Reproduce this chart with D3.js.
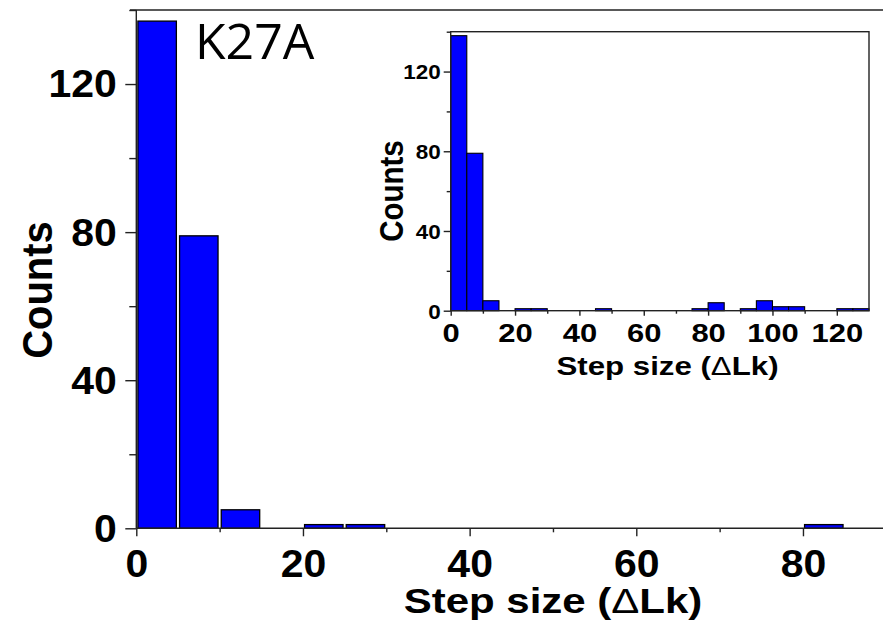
<!DOCTYPE html>
<html>
<head>
<meta charset="utf-8">
<script src="https://cdn.jsdelivr.net/npm/d3@7/dist/d3.min.js"></script>
<style>
  html, body { margin: 0; padding: 0; background: #fff; }
  svg { display: block; }
</style>
</head>
<body>
<svg id="chart" width="883" height="643"></svg>
<script>
// ---------- data ----------
const binWidth = 5;
// main histogram: bin start (ΔLk) and counts
const mainBinStarts = [0, 5, 10, 15, 20, 25, 30, 35, 40, 45, 50, 55, 60, 65, 70, 75, 80, 85];
const mainCounts    = [137, 79, 5, 0, 1, 1, 0, 0, 0, 0, 0, 0, 0, 0, 0, 0, 1, 0];
const mainXTicks = [0, 20, 40, 60, 80];
const mainYTicks = [0, 40, 80, 120];

// inset histogram
const insetBinStarts = [0, 5, 10, 15, 20, 25, 30, 35, 40, 45, 50, 55, 60, 65, 70, 75, 80, 85, 90, 95, 100, 105, 110, 115, 120, 125];
const insetCounts    = [138, 79, 5, 0, 1, 1, 0, 0, 0, 1, 0, 0, 0, 0, 0, 1, 4, 0, 1, 5, 2, 2, 0, 0, 1, 1];
const insetXTicks = [0, 20, 40, 60, 80, 100, 120];
const insetYTicks = [0, 40, 80, 120];

const labelText = "K27A";
const xTitleParts = ["Step size (", "\u0394", "Lk)"];
const yTitle = "Counts";

// ---------- setup ----------
const svg = d3.select("#chart");
const boldFont = "'Liberation Sans', Arial, sans-serif";
const axisColor = "#222";
const barFill = "#0000ff";

function styleAxis(g) {
  g.selectAll(".domain").remove();
  g.selectAll("line").attr("stroke", axisColor).attr("stroke-width", 1.4);
}
function addXTitle(sel) {
  sel.append("tspan").text(xTitleParts[0]);
  sel.append("tspan").attr("font-weight", "normal").text(xTitleParts[1]);
  sel.append("tspan").text(xTitleParts[2]);
}

// ================= MAIN CHART =================
const mx = d3.scaleLinear().domain([0, 90]).range([136.3, 886.3]);
const my = d3.scaleLinear().domain([0, 140]).range([528.3, 10]);

const main = svg.append("g");

// bars
const mainData = mainBinStarts.map((s, i) => ({ s, c: mainCounts[i] })).filter(d => d.c > 0);
main.selectAll("rect.bar").data(mainData).enter().append("rect")
  .attr("class", "bar")
  .attr("x", d => mx(d.s) + 1.6)
  .attr("width", d => mx(d.s + binWidth) - mx(d.s) - 3.2)
  .attr("y", d => my(d.c))
  .attr("height", d => my(0) - my(d.c))
  .attr("fill", barFill)
  .attr("stroke", "#000")
  .attr("stroke-width", 1.3);

// axes lines
main.append("line").attr("x1", 130).attr("x2", 883).attr("y1", my(140)).attr("y2", my(140))
  .attr("stroke", axisColor).attr("stroke-width", 1.4);
main.append("line").attr("x1", mx(0)).attr("x2", mx(0)).attr("y1", my(140)).attr("y2", my(0))
  .attr("stroke", axisColor).attr("stroke-width", 1.4);
main.append("line").attr("x1", mx(0)).attr("x2", 883).attr("y1", my(0)).attr("y2", my(0))
  .attr("stroke", axisColor).attr("stroke-width", 1.4);

// y axis
const mYMinor = main.append("g").attr("transform", `translate(${mx(0)},0)`)
  .call(d3.axisLeft(my).tickValues([20, 60, 100, 140]).tickSize(7).tickFormat(""));
styleAxis(mYMinor);
const mYMajor = main.append("g").attr("transform", `translate(${mx(0)},0)`)
  .call(d3.axisLeft(my).tickValues(mainYTicks).tickSize(11).tickFormat(d3.format("d")));
styleAxis(mYMajor);
mYMajor.selectAll("text")
  .attr("x", 0).attr("dy", "0.33em")
  .attr("transform", "translate(-19.6,0) scale(1.05,1)")
  .attr("font-family", boldFont).attr("font-weight", "bold").attr("font-size", 39)
  .attr("fill", "#000").attr("text-anchor", "end");

// x axis
const mXMinor = main.append("g").attr("transform", `translate(0,${my(0)})`)
  .call(d3.axisBottom(mx).tickValues([10, 30, 50, 70]).tickSize(4).tickFormat(""));
styleAxis(mXMinor);
const mXMajor = main.append("g").attr("transform", `translate(0,${my(0)})`)
  .call(d3.axisBottom(mx).tickValues(mainXTicks).tickSize(8).tickFormat(d3.format("d")));
styleAxis(mXMajor);
mXMajor.selectAll("text")
  .attr("y", 0).attr("dy", 0)
  .attr("transform", "translate(0,48.4) scale(1.05,1)")
  .attr("font-family", boldFont).attr("font-weight", "bold").attr("font-size", 39)
  .attr("fill", "#000").attr("text-anchor", "middle");

// titles
main.append("text")
  .attr("transform", "translate(553,613) scale(1.2,1)")
  .attr("text-anchor", "middle")
  .attr("font-family", boldFont).attr("font-weight", "bold").attr("font-size", 35)
  .attr("fill", "#000")
  .call(addXTitle);

main.append("text")
  .attr("transform", "translate(51.5,290) scale(1.07,1) rotate(-90)")
  .attr("text-anchor", "middle")
  .attr("font-family", boldFont).attr("font-weight", "bold").attr("font-size", 40)
  .attr("fill", "#000")
  .text(yTitle);

main.append("text")
  .attr("x", 195).attr("y", 58.5)
  .attr("font-family", "'Open Sans', sans-serif").attr("font-size", 50)
  .attr("fill", "#000")
  .text(labelText);

// ================= INSET =================
const ix = d3.scaleLinear().domain([0, 130]).range([450.7, 869]);
const iy = d3.scaleLinear().domain([0, 140]).range([310.7, 31.7]);
const inset = svg.append("g");

const insetData = insetBinStarts.map((s, i) => ({ s, c: insetCounts[i] })).filter(d => d.c > 0);
inset.selectAll("rect.bar").data(insetData).enter().append("rect")
  .attr("class", "bar")
  .attr("x", d => ix(d.s))
  .attr("width", d => ix(d.s + binWidth) - ix(d.s))
  .attr("y", d => iy(d.c))
  .attr("height", d => iy(0) - iy(d.c))
  .attr("fill", barFill)
  .attr("stroke", "#000")
  .attr("stroke-width", 1.1);

inset.append("rect")
  .attr("x", ix(0)).attr("y", iy(140))
  .attr("width", ix(130) - ix(0)).attr("height", iy(0) - iy(140))
  .attr("fill", "none").attr("stroke", axisColor).attr("stroke-width", 1.4);

const iYMinor = inset.append("g").attr("transform", `translate(${ix(0)},0)`)
  .call(d3.axisLeft(iy).tickValues([20, 60, 100, 140]).tickSize(4).tickFormat(""));
styleAxis(iYMinor);
const iYMajor = inset.append("g").attr("transform", `translate(${ix(0)},0)`)
  .call(d3.axisLeft(iy).tickValues(insetYTicks).tickSize(7).tickFormat(d3.format("d")));
styleAxis(iYMajor);
iYMajor.selectAll("text")
  .attr("x", 0).attr("dy", "0.35em")
  .attr("transform", "translate(-10,0) scale(1.07,1)")
  .attr("font-family", boldFont).attr("font-weight", "bold").attr("font-size", 21)
  .attr("fill", "#000").attr("text-anchor", "end");

const iXMinor = inset.append("g").attr("transform", `translate(0,${iy(0)})`)
  .call(d3.axisBottom(ix).tickValues([10, 30, 50, 70, 90, 110]).tickSize(3).tickFormat(""));
styleAxis(iXMinor);
const iXMajor = inset.append("g").attr("transform", `translate(0,${iy(0)})`)
  .call(d3.axisBottom(ix).tickValues(insetXTicks).tickSize(5).tickFormat(d3.format("d")));
styleAxis(iXMajor);
iXMajor.selectAll("text")
  .attr("y", 0).attr("dy", 0)
  .attr("transform", "translate(0,31.3) scale(1.19,1)")
  .attr("font-family", boldFont).attr("font-weight", "bold").attr("font-size", 26)
  .attr("fill", "#000").attr("text-anchor", "middle");

inset.append("text")
  .attr("transform", "translate(667.5,375) scale(1.25,1)")
  .attr("text-anchor", "middle")
  .attr("font-family", boldFont).attr("font-weight", "bold").attr("font-size", 25)
  .attr("fill", "#000")
  .call(addXTitle);

inset.append("text")
  .attr("transform", "translate(403,191) scale(1.15,1) rotate(-90)")
  .attr("text-anchor", "middle")
  .attr("font-family", boldFont).attr("font-weight", "bold").attr("font-size", 29.5)
  .attr("fill", "#000")
  .text(yTitle);
</script>
</body>
</html>
